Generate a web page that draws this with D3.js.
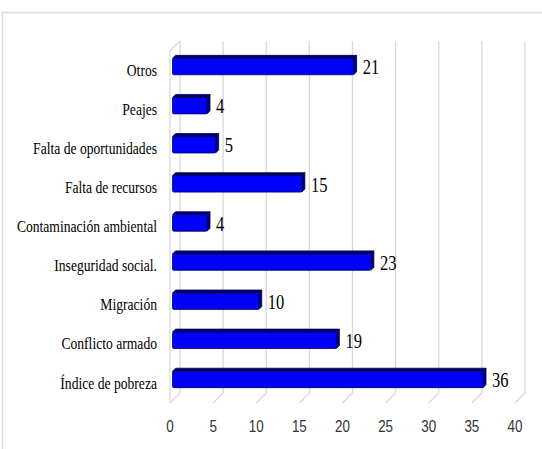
<!DOCTYPE html>
<html>
<head>
<meta charset="utf-8">
<script src="https://cdn.jsdelivr.net/npm/d3@7"></script>
</head>
<body>
<div id="chart"></div>
<script>
const categories = ['Otros', 'Peajes', 'Falta de oportunidades', 'Falta de recursos',
  'Contaminación ambiental', 'Inseguridad social.', 'Migración', 'Conflicto armado', 'Índice de pobreza'];
const values = [21, 4, 5, 15, 4, 23, 10, 19, 36];
const ticks = [0, 5, 10, 15, 20, 25, 30, 35, 40];

const W = 542;
const H = 449;
const x0 = 170; // front plane left edge
const plotTop = 51; // front plane top
const floorY = 403; // front plane bottom
const depth = { dx: 10, dy: -10 }; // back wall offset
const bar = { ox: 2.5, oy: -4, d: 3 }; // bar front offset and bar thickness
const serif = "'Liberation Serif'";
const sans = "'Liberation Sans'";

d3.select('body').style('margin', '0').style('background', '#fff');

const svg = d3.select('#chart')
  .append('svg')
  .attr('width', W)
  .attr('height', H)
  .style('display', 'block');

// squeeze text horizontally, like the narrow fonts of the original
function squeeze(sel, k) {
  sel.each(function () {
    const len = this.getComputedTextLength();
    d3.select(this)
      .attr('textLength', (len * k).toFixed(1))
      .attr('lengthAdjust', 'spacingAndGlyphs');
  });
}

// chart area border (cut off at right/bottom like the original)
svg.append('rect')
  .attr('x', 2.5).attr('y', 12.5)
  .attr('width', 700).attr('height', 600)
  .attr('fill', 'none')
  .attr('stroke', '#d9d9d9')
  .attr('stroke-width', 1.5);

const x = d3.scaleLinear().domain([0, 40]).range([0, 345]);
const y = d3.scaleBand().domain(categories)
  .range([plotTop, floorY])
  .paddingInner(0.58)
  .paddingOuter(0.29);

const grid = svg.append('g')
  .attr('stroke', '#d9d9d9')
  .attr('stroke-width', 1.3)
  .attr('fill', 'none');

// back wall gridlines and floor diagonals
ticks.forEach((t) => {
  const bx = x0 + x(t) + depth.dx;
  grid.append('path')
    .attr('d', `M${bx},${plotTop + depth.dy}V${floorY + depth.dy}L${x0 + x(t)},${floorY}`);
});
// left side wall front edge
grid.append('path')
  .attr('d', `M${x0 + depth.dx},${plotTop + depth.dy}L${x0},${plotTop}V${floorY}`);

// bars
const bars = svg.append('g');
const valueLabels = svg.append('g');
categories.forEach((c, i) => {
  const v = values[i];
  const xl = x0 + bar.ox;
  const xr = xl + x(v);
  const yt = y(c) + bar.oy;
  const yb = yt + y.bandwidth();
  const d = bar.d;
  const g = bars.append('g')
    .attr('stroke', '#000050')
    .attr('stroke-width', 0.8)
    .attr('stroke-linejoin', 'round');
  // top face
  g.append('path')
    .attr('d', `M${xl},${yt}L${xl + d},${yt - d}H${xr + d}L${xr},${yt}Z`)
    .attr('fill', '#00006e');
  // right face
  g.append('path')
    .attr('d', `M${xr},${yt}L${xr + d},${yt - d}V${yb - d}L${xr},${yb}Z`)
    .attr('fill', '#000080');
  // front face
  g.append('rect')
    .attr('x', xl).attr('y', yt)
    .attr('width', x(v)).attr('height', y.bandwidth())
    .attr('rx', 1.5)
    .attr('fill', '#0000ff');

  // value label
  valueLabels.append('text')
    .attr('x', xr + d + 6)
    .attr('y', yt + y.bandwidth() / 2)
    .attr('dy', '0.35em')
    .attr('font-size', 22)
    .style('font-family', serif)
    .attr('fill', '#000')
    .text(v);
});
valueLabels.selectAll('text').call(squeeze, 0.75);

// category labels
svg.append('g')
  .selectAll('text')
  .data(categories)
  .enter()
  .append('text')
  .attr('x', 157)
  .attr('y', d => y(d) + y.bandwidth() / 2)
  .attr('dy', '0.32em')
  .attr('text-anchor', 'end')
  .attr('font-size', 16)
  .style('font-family', serif)
  .attr('fill', '#000')
  .text(d => d)
  .call(squeeze, 0.85);

// value axis tick labels
svg.append('g')
  .selectAll('text')
  .data(ticks)
  .enter()
  .append('text')
  .attr('x', d => x0 + x(d))
  .attr('y', 426.5)
  .attr('dy', '0.36em')
  .attr('text-anchor', 'middle')
  .attr('font-size', 16)
  .style('font-family', sans)
  .attr('fill', '#333')
  .text(d => d)
  .call(squeeze, 0.84);
</script>
</body>
</html>
